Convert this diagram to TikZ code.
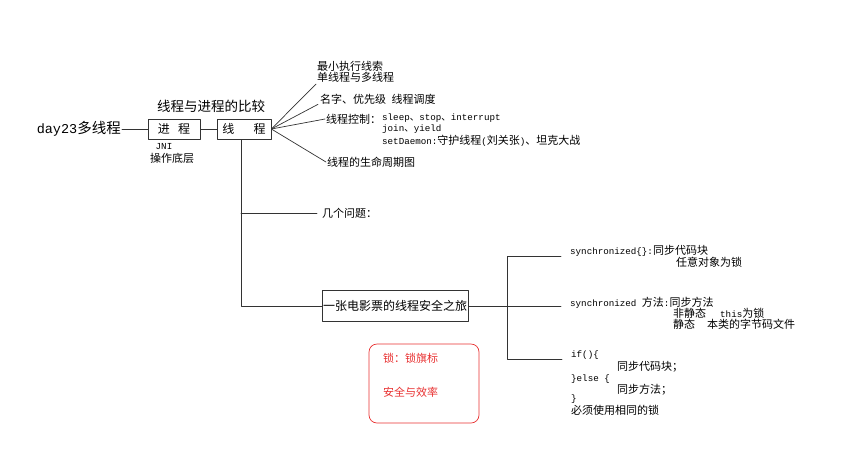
\documentclass[tikz,border=0pt]{standalone}
\usepackage{fontspec}
\setmainfont{Noto Sans CJK SC}
\setmonofont{Liberation Mono}
\usetikzlibrary{positioning}
\definecolor{lockred}{RGB}{232,48,48}
\newcommand{\codett}[1]{{\fontsize{9.2}{11}\selectfont\ttfamily #1}}
\newcommand{\dunhao}{{\fontsize{9.5}{11}\selectfont 、}}

\begin{document}
\begin{tikzpicture}[x=1pt,y=-1pt,line cap=round,line join=round,
  every node/.style={font=\fontsize{11}{11.5}\selectfont,inner sep=1pt},
  lbl/.style={anchor=west,inner sep=0pt},
  box/.style={draw=black!80,line width=0.7pt,rectangle,minimum height=20pt,font=\fontsize{12}{12}\selectfont},
  wire/.style={line width=0.7pt,color=black!80},
  lockbox/.style={draw=lockred,line width=0.7pt,rounded corners=8pt,minimum width=110pt,minimum height=79pt}]
\useasboundingbox (0,0) rectangle (848,451);
\node[anchor=east] (day) at (122,129) {\fontsize{13.5}{15}\selectfont\texttt{day23}\fontsize{14.5}{15}\selectfont 多线程};
\node[box,minimum width=52pt] (jin) at (174,129) {进\hspace{0.7em}程};
\node[box,minimum width=54pt] (xian) at (244,129) {线\hspace{1.6em}程};
\node (cmp) at (211,106) {\fontsize{13.5}{14}\selectfont 线程与进程的比较};
\node (jni) at (164,147) {\codett{JNI}};
\node (oper) at (172,158) {操作底层};
\draw[wire] (day) -- (jin);
\draw[wire] (jin) -- (xian);
\node[anchor=south west,align=left] (least) at (316,84) {最小执行线索\\单线程与多线程};
\node[lbl] (name) at (320,99) {名字、优先级\hspace{0.5em}线程调度};
\node[lbl] (ctrl) at (326,119) {线程控制：};
\node[lbl] (sleep) at (382,118) {\codett{sleep}\dunhao\codett{stop}\dunhao\codett{interrupt}};
\node[lbl] (join) at (382,129.5) {\codett{join}\dunhao\codett{yield}};
\node[lbl] (daemon) at (382,141) {\codett{setDaemon:}守护线程\codett{(}刘关张\codett{)}、坦克大战};
\node[lbl] (life) at (327,162) {线程的生命周期图};
\draw[wire] (xian.east) -- (least.south west);
\draw[wire] (xian.east) -- ([xshift=-2pt]name.south west);
\draw[wire] (xian.east) -- ([xshift=-1pt]ctrl.west);
\draw[wire] (xian.east) -- ([xshift=-1pt]life.west);
\coordinate (trunk) at ([xshift=-3pt]xian.south);
\node[lbl] (ask) at (322,213) {几个问题：};
\node[box,minimum width=144pt,minimum height=31pt] (trip) at (395,306) {一张电影票的线程安全之旅};
\draw[wire] (trunk) |- (trip.west);
\draw[wire] (trunk |- ask.west) -- ([xshift=-5pt]ask.west);
\coordinate (hub) at (507,306);
\node[lbl] (blk) at (570,251) {\codett{synchronized\{\}:}同步代码块};
\node[lbl] (anyobj) at (676,262) {任意对象为锁};
\node[lbl] (mth) at (570,303) {\codett{synchronized }方法\codett{:}同步方法};
\node[lbl] (nonst) at (673,313) {非静态\hspace{14pt}\codett{this}为锁};
\node[lbl] (stat) at (673,324) {静态\hspace{12pt}本类的字节码文件};
\node[lbl] (ifblk) at (571,355) {\codett{if()\{}};
\node[lbl] (sblk) at (617,367) {同步代码块；};
\node[lbl] (elseblk) at (571,379) {\codett{\}else \{}};
\node[lbl] (smth) at (617,390) {同步方法；};
\node[lbl] (close) at (571,399) {\codett{\}}};
\node[lbl] (same) at (571,410) {必须使用相同的锁};
\draw[wire] (trip.east) -- (hub);
\draw[wire] (hub) |- ([xshift=-9pt]blk.south west);
\draw[wire] (hub) -- ([xshift=-9pt]hub -| mth.west);
\draw[wire] (hub) |- ([xshift=-9pt]ifblk.south west);
\node[lockbox] (lock) at (424,383.5) {};
\node[lbl,text=lockred] (flag) at (383,358) {锁：锁旗标};
\node[lbl,text=lockred] (safe) at (383,392) {安全与效率};
\end{tikzpicture}
\end{document}
